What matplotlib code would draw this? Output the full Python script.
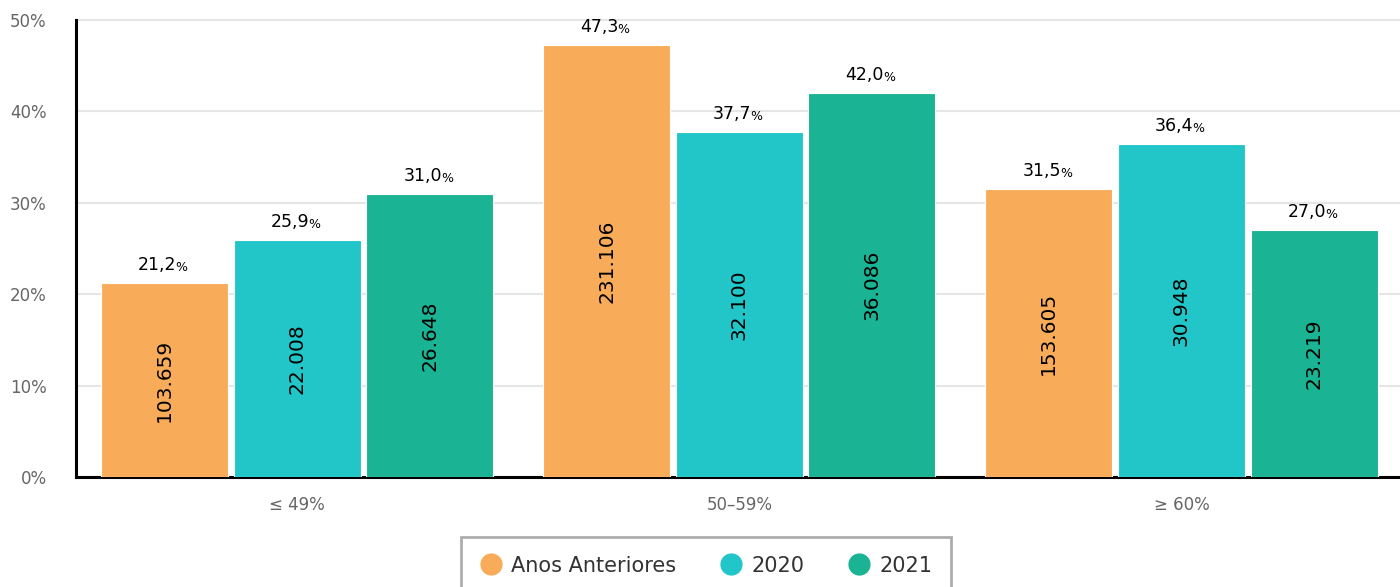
import numpy as np
import matplotlib.pyplot as plt
from matplotlib.lines import Line2D

categories = ["\u2264 49%", "50\u201359%", "\u2265 60%"]
series = ["Anos Anteriores", "2020", "2021"]
pct_anteriores = [21.2, 47.3, 31.5]
pct_2020 = [25.9, 37.7, 36.4]
pct_2021 = [31.0, 42.0, 27.0]
cnt_anteriores = ["103.659", "231.106", "153.605"]
cnt_2020 = ["22.008", "32.100", "30.948"]
cnt_2021 = ["26.648", "36.086", "23.219"]
yticks = [0, 10, 20, 30, 40, 50]

colors = ["#f8ac59", "#23c6c8", "#1ab394"]

fig = plt.figure(figsize=(14, 5.87), dpi=100)
ax = fig.add_axes([0.0543, 0.1874, 0.9475, 0.7786])

x = np.arange(len(categories))
width = 0.287
offsets = [-0.30, 0.0, 0.30]
pcts = [pct_anteriores, pct_2020, pct_2021]
cnts = [cnt_anteriores, cnt_2020, cnt_2021]

for k in range(3):
    bars = ax.bar(x + offsets[k], pcts[k], width, color=colors[k],
                  edgecolor="white", linewidth=0.8, zorder=3)
    for b, p, c in zip(bars, pcts[k], cnts[k]):
        cx = b.get_x() + b.get_width() / 2
        h = b.get_height()
        num = ("%.1f" % p).replace(".", ",")
        ax.annotate(num, xy=(cx, h), xytext=(12, 9), textcoords="offset pixels",
                    ha="right", va="bottom", fontsize=12.5, color="black")
        ax.annotate("%", xy=(cx, h), xytext=(11, 9), textcoords="offset pixels",
                    ha="left", va="bottom", fontsize=9, color="black")
        ax.text(cx, h / 2, c, rotation=90, ha="center", va="center",
                fontsize=14.5, color="black", zorder=4)

ax.set_xlim(-0.5, 2.5)
ax.set_ylim(0, 50)
ax.set_yticks(yticks)
ax.set_yticklabels(["%d%%" % t for t in yticks])
ax.set_xticks(x)
ax.set_xticklabels(categories)
ax.tick_params(axis="y", length=0, pad=21, labelsize=12, labelcolor="#666666")
ax.tick_params(axis="x", length=0, pad=14, labelsize=12, labelcolor="#666666")
ax.grid(axis="y", color="#e6e6e6", linewidth=1.5, zorder=0)
for gl in ax.get_ygridlines():
    gl.set_clip_on(False)
ax.set_axisbelow(True)
for s in ["top", "right"]:
    ax.spines[s].set_visible(False)
ax.spines["left"].set_linewidth(2.2)
ax.spines["bottom"].set_linewidth(2.2)
ax.spines["left"].set_color("black")
ax.spines["bottom"].set_color("black")

handles = [Line2D([], [], marker="o", linestyle="none", markersize=15,
                  markerfacecolor=c, markeredgecolor=c) for c in colors]
leg = fig.legend(handles, series, loc="upper center", ncol=3,
                 bbox_to_anchor=(706 / 1400, 1 - 537 / 587),
                 frameon=True, fancybox=False, fontsize=15,
                 handletextpad=0.4, columnspacing=2.1, borderpad=0.9,
                 borderaxespad=0, handlelength=1.1)
leg.get_frame().set_edgecolor("#999999")
leg.get_frame().set_linewidth(2)
for t in leg.get_texts():
    t.set_color("#333333")

fig.savefig("out.png", dpi=100)
